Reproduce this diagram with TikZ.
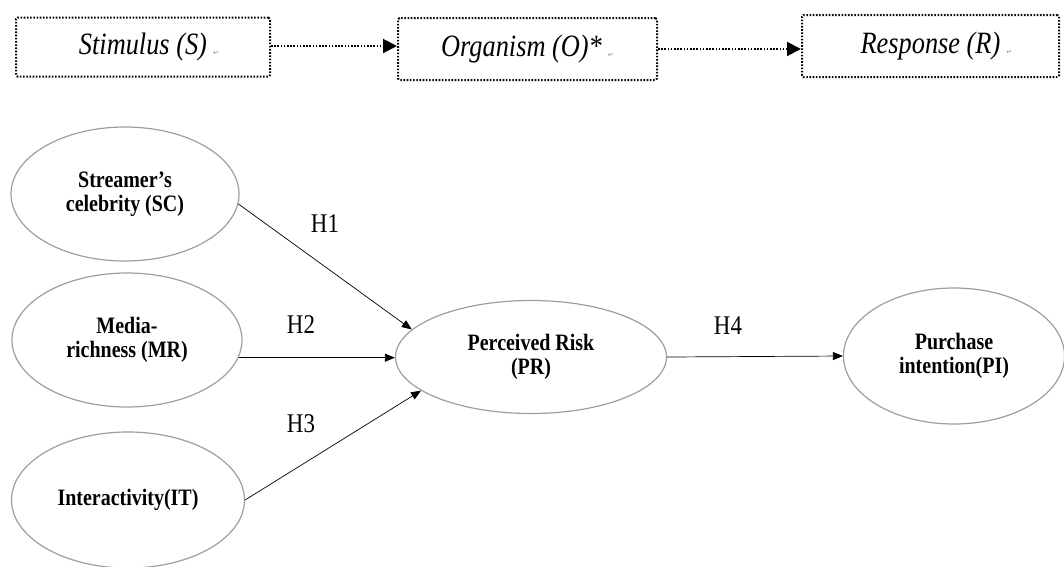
\documentclass[tikz,border=0pt]{standalone}
\usepackage{fontspec}
\setmainfont[FakeStretch=0.85]{Liberation Serif}
\newfontfamily\markfont{DejaVu Sans}
\usetikzlibrary{arrows.meta,shapes.geometric}
\tikzset{
  dotline/.style={draw=black, line width=2pt, dash pattern=on 1.6pt off 1.6pt},
  srbox/.style={dotline, rounded corners=1.5pt, inner sep=0pt,
    font=\fontsize{31}{34}\selectfont\itshape},
  srarrow/.style={dotline, -{Triangle[length=14pt,width=14pt]}},
  construct/.style={ellipse, draw=black!38, line width=1.2pt, inner sep=0pt, align=center,
    font=\fontsize{23.5}{24.5}\selectfont\bfseries},
  hyparrow/.style={draw=black, line width=0.7pt, -{Triangle[length=10pt,width=8pt]}},
  hyplabel/.style={font=\fontsize{27}{29}\selectfont, inner sep=0pt},
}
\newcommand{\pmark}{\rlap{\hspace{6pt}{\markfont\fontsize{7}{8}\selectfont\color{black!45}\raisebox{-1pt}{↵}}}}
\begin{document}
\begin{tikzpicture}[x=1pt,y=-1pt]
\useasboundingbox (0,0) rectangle (1064,566);
% top S-O-R row
\node[srbox, minimum width=254pt, minimum height=59pt] (stim) at (143,47) {Stimulus (S)\pmark};
\node[srbox, minimum width=259pt, minimum height=62pt] (org) at (527.5,49) {\hspace{-12pt}Organism (O)*\pmark};
\node[srbox, minimum width=257pt, minimum height=62pt] (resp) at (930.5,46) {Response (R)\pmark};
\draw[srarrow] ([yshift=1pt]stim.east) -- ([yshift=1pt]stim.east -| org.west);
\draw[srarrow] (org.east) -- (org.east -| resp.west);
% constructs
\node[construct, minimum width=228pt, minimum height=134pt] (sc) at (125,194) {Streamer’s\\celebrity (SC)};
\node[construct, minimum width=230pt, minimum height=134pt] (mr) at (127,340) {Media-\\richness (MR)};
\node[construct, minimum width=233pt, minimum height=136pt] (it) at (128,500) {Interactivity(IT)};
\node[construct, minimum width=271pt, minimum height=113pt] (pr) at (531,357) {Perceived Risk\\(PR)};
\node[construct, minimum width=221pt, minimum height=136pt] (pi) at (954,356) {Purchase\\intention(PI)};
% hypotheses
\draw[hyparrow] (sc.-5) -- (pr.167);
\draw[hyparrow] (mr.-9) -- (mr.-9 -| pr.west);
\draw[hyparrow] (it.east) -- (pr.197);
\draw[hyparrow] (pr.east) -- (pi.west);
\node[hyplabel] (h1) at (325,224) {H1};
\node[hyplabel] (h2) at (301,325) {H2};
\node[hyplabel] (h3) at (301,424) {H3};
\node[hyplabel] (h4) at (728,326) {H4};
\end{tikzpicture}
\end{document}
